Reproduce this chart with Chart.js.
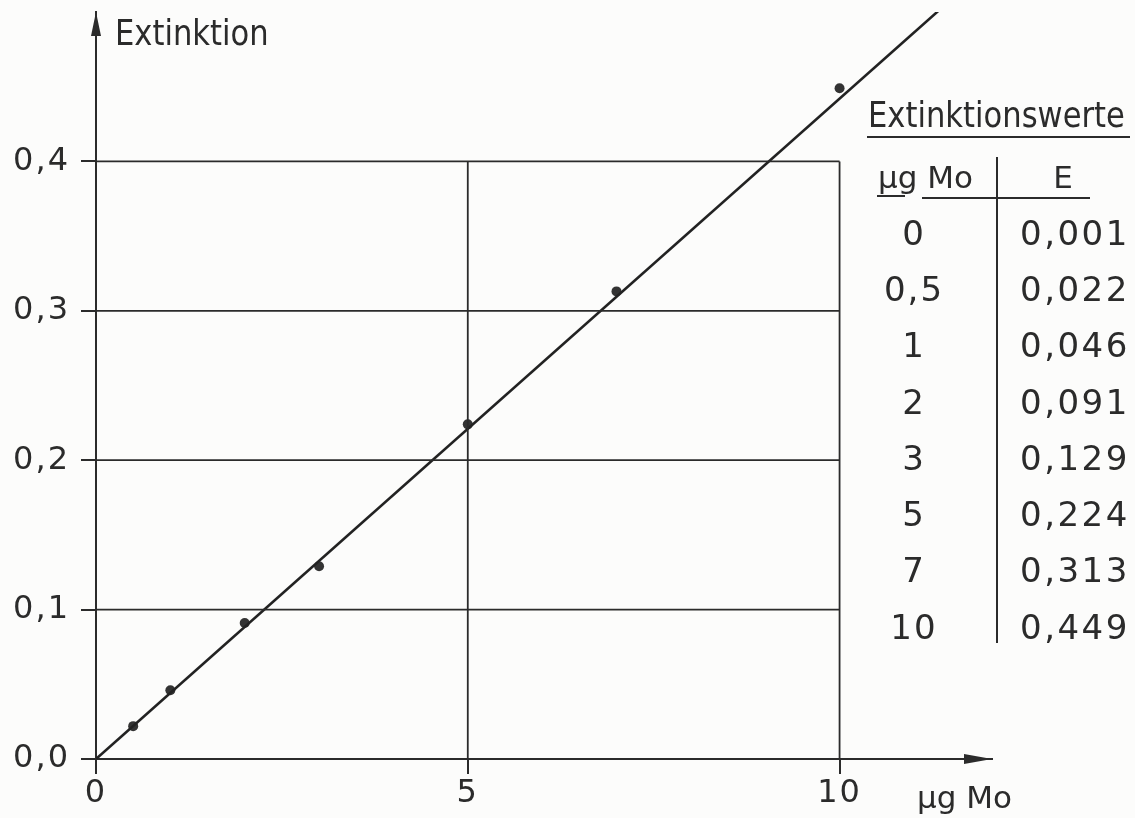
<!DOCTYPE html>
<html>
<head>
<meta charset="utf-8">
<script src="https://cdn.jsdelivr.net/npm/chart.js@4.4.0/dist/chart.umd.min.js"></script>
<style>
body{margin:0;background:#fcfcfb;}
#wrap{position:relative;width:1135px;height:818px;overflow:hidden;font-family:"DejaVu Sans",sans-serif;color:#2b2b2b;}
canvas{position:absolute;left:0;top:0;}
.t{position:absolute;line-height:1;white-space:nowrap;}
.rule{position:absolute;background:#2b2b2b;}
</style>
</head>
<body>
<div id="wrap">
<canvas id="grafica" width="1135" height="818"></canvas>
<div id="tabla"></div>
</div>
<script>

// datos de la tabla "Extinktionswerte"
const massMo = [0, 0.5, 1, 2, 3, 5, 7, 10];
const extinction = [0.001, 0.022, 0.046, 0.091, 0.129, 0.224, 0.313, 0.449];

// recta de calibración (extremos)
const fitX = [0, 11.38];
const fitY = [0, 0.503];

const xTicks = [0, 5, 10];
const yTicks = [0, 0.1, 0.2, 0.3, 0.4];
const xMax = 12.05;
const yMax = 0.5;

const yLabel = "Extinktion";
const xLabel = "µg Mo";
const tableTitle = "Extinktionswerte";
const tableHead = ["µg Mo", "E"];

const ink = "#2b2b2b";

function coma(v){
return String(v).replace(".", ",");
}

/* rejilla solo dentro del cuadro 0..10 / 0..0,4 */

const xGridEnd = xTicks[xTicks.length-1];
const yGridEnd = yTicks[yTicks.length-1];

let datasets = [];

yTicks.filter(v=>v>0).forEach(v=>{
datasets.push({
data:[{x:0,y:v},{x:xGridEnd,y:v}],
showLine:true,
borderColor:ink,
borderWidth:1.8,
pointRadius:0
});
});

xTicks.filter(v=>v>0).forEach(v=>{
datasets.push({
data:[{x:v,y:0},{x:v,y:yGridEnd}],
showLine:true,
borderColor:ink,
borderWidth:1.8,
pointRadius:0
});
});

datasets.push({
data:fitX.map((x,i)=>({x:x,y:fitY[i]})),
showLine:true,
borderColor:"#222",
borderWidth:2.6,
pointRadius:0
});

datasets.push({
data:massMo.map((x,i)=>({x:x,y:extinction[i]})),
showLine:false,
pointRadius:c=> massMo[c.dataIndex]===0 ? 0 : 5,
pointBackgroundColor:"#333",
pointBorderWidth:0
});

/* flechas de los ejes */

const flechas = {
id:"flechas",
beforeDraw(chart){
chart.ctx.letterSpacing = "2px";
},
afterDraw(chart){
const {ctx, scales:{x,y}} = chart;
const x0 = x.getPixelForValue(0);
const y0 = y.getPixelForValue(0);
const yt = y.getPixelForValue(yMax);
const xr = x.getPixelForValue(xMax);
ctx.save();
ctx.fillStyle = ink;
ctx.beginPath();
ctx.moveTo(x0, yt);
ctx.lineTo(x0-5, yt+24);
ctx.lineTo(x0+5, yt+24);
ctx.closePath();
ctx.fill();
ctx.beginPath();
ctx.moveTo(xr, y0);
ctx.lineTo(xr-28, y0-5);
ctx.lineTo(xr-28, y0+5);
ctx.closePath();
ctx.fill();
ctx.restore();
}
};

new Chart(document.getElementById("grafica"),{
type:"scatter",
data:{datasets:datasets},
options:{
responsive:false,
animation:false,
layout:{padding:{top:12,right:143,left:0,bottom:0}},
plugins:{legend:{display:false},tooltip:{enabled:false}},
scales:{
x:{
type:"linear",
min:0,
max:xMax,
afterBuildTicks:s=>{ s.ticks = xTicks.map(v=>({value:v})); },
afterFit:s=>{ s.height = 59; s.paddingLeft = 0; s.paddingRight = 0; },
border:{display:true,color:ink,width:2},
grid:{drawOnChartArea:false,drawTicks:true,tickLength:15,color:ink,lineWidth:2},
ticks:{color:ink,font:{family:"DejaVu Sans",size:32},padding:0,maxRotation:0,callback:v=>coma(v)}
},
y:{
type:"linear",
min:0,
max:yMax,
afterBuildTicks:s=>{ s.ticks = yTicks.map(v=>({value:v})); },
afterFit:s=>{ s.width = 96; s.paddingTop = 0; s.paddingBottom = 0; },
border:{display:true,color:ink,width:2},
grid:{drawOnChartArea:false,drawTicks:true,tickLength:15,color:ink,lineWidth:2},
ticks:{color:ink,font:{family:"DejaVu Sans",size:32},padding:11,callback:v=>v.toFixed(1).replace(".",",")}
}
}
},
plugins:[flechas]
});

/* textos y tabla */

const wrap = document.getElementById("tabla");

function texto(txt, left, top, size, estilo){
const d = document.createElement("div");
d.className = "t";
d.textContent = txt;
d.style.left = left+"px";
d.style.top = top+"px";
d.style.fontSize = size+"px";
if(estilo) Object.assign(d.style, estilo);
wrap.appendChild(d);
return d;
}

function linea(left, top, w, h){
const d = document.createElement("div");
d.className = "rule";
d.style.left = left+"px";
d.style.top = top+"px";
d.style.width = w+"px";
d.style.height = h+"px";
wrap.appendChild(d);
}

const condensado = {transform:"scaleX(0.85)",transformOrigin:"0 0"};

texto(yLabel, 115, 15, 36, condensado);
texto(xLabel, 917, 782, 31);

texto(tableTitle, 868, 97, 36, condensado);
linea(867, 136, 263, 2);

texto(tableHead[0], 878, 162, 31);
texto(tableHead[1], 1063, 162, 31, {transform:"translateX(-50%)"});
linea(877, 195, 28, 2);
linea(922, 197, 168, 2);
linea(996, 157, 2, 486);

massMo.forEach((m,i)=>{
const top = 232 + i*56.3 - 16.4;
texto(coma(m), 914, top, 34, {transform:"translateX(-50%)",letterSpacing:"2px"});
texto(extinction[i].toFixed(3).replace(".",","), 1020, top, 34, {letterSpacing:"2.5px"});
});

</script>
</body>
</html>
